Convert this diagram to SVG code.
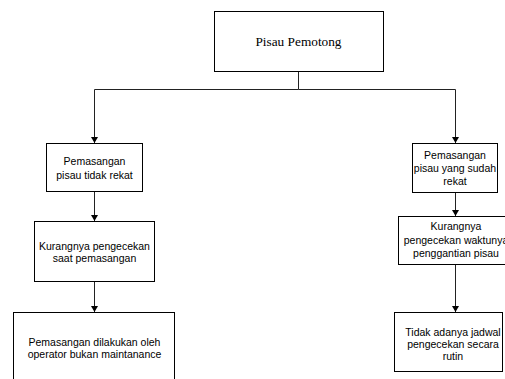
<svg xmlns="http://www.w3.org/2000/svg" width="505" height="379" viewBox="0 0 505 379">
<defs>
<marker id="ah" markerUnits="userSpaceOnUse" markerWidth="8" markerHeight="8" viewBox="0 0 8 8" refX="7" refY="4" orient="auto">
<path d="M1,0.5 L7,4 L1,7.5 Z" fill="#000"/>
</marker>
</defs>
<style>
.box{fill:#fff;stroke:#000;stroke-width:1}
.t{font-family:"Liberation Sans",Arial,sans-serif;font-size:10.5px;fill:#000;text-anchor:middle}
.ts{font-family:"Liberation Serif","Times New Roman",serif;font-size:13.3px;fill:#000;text-anchor:middle}
.c{fill:none;stroke:#222;stroke-width:1}
</style>
<rect width="505" height="379" fill="#fff"/>
<g id="connectors">
<path class="c" d="M298.5 71 V89.5 H94.5 V143" marker-end="url(#ah)"/>
<path class="c" d="M298.5 89.5 H455.5 V143" marker-end="url(#ah)"/>
<path class="c" d="M94.5 191 V221" marker-end="url(#ah)"/>
<path class="c" d="M94.5 281 V312" marker-end="url(#ah)"/>
<path class="c" d="M455.5 192 V216" marker-end="url(#ah)"/>
<path class="c" d="M455.5 264 V312" marker-end="url(#ah)"/>
</g>
<g id="n0">
<rect class="box" x="214.5" y="11.5" width="169" height="60"/>
<text class="ts" x="298.5" y="46">Pisau Pemotong</text>
</g>
<g id="l1">
<rect class="box" x="46.5" y="143.5" width="96" height="48"/>
<text class="t" x="94.5" y="165">Pemasangan</text>
<text class="t" x="94.5" y="179">pisau tidak rekat</text>
</g>
<g id="l2">
<rect class="box" x="34.5" y="221.5" width="120" height="60"/>
<text class="t" x="94.5" y="250">Kurangnya pengecekan</text>
<text class="t" x="94.5" y="262">saat pemasangan</text>
</g>
<g id="l3">
<rect class="box" x="13.5" y="312.5" width="161" height="75"/>
<text class="t" x="94.5" y="346">Pemasangan dilakukan oleh</text>
<text class="t" x="94.5" y="358">operator bukan maintanance</text>
</g>
<g id="r1">
<rect class="box" x="412.5" y="143.5" width="85" height="49"/>
<text class="t" x="455" y="159">Pemasangan</text>
<text class="t" x="455" y="172">pisau yang sudah</text>
<text class="t" x="455" y="185">rekat</text>
</g>
<g id="r2">
<rect class="box" x="398.5" y="216.5" width="116" height="48"/>
<text class="t" x="456" y="230">Kurangnya</text>
<text class="t" x="456" y="243.5">pengecekan waktunya</text>
<text class="t" x="456" y="257">penggantian pisau</text>
</g>
<g id="r3">
<rect class="box" x="394.5" y="312.5" width="108" height="59"/>
<text class="t" x="453" y="336">Tidak adanya jadwal</text>
<text class="t" x="453" y="348">pengecekan secara</text>
<text class="t" x="453" y="360">rutin</text>
</g>
</svg>
